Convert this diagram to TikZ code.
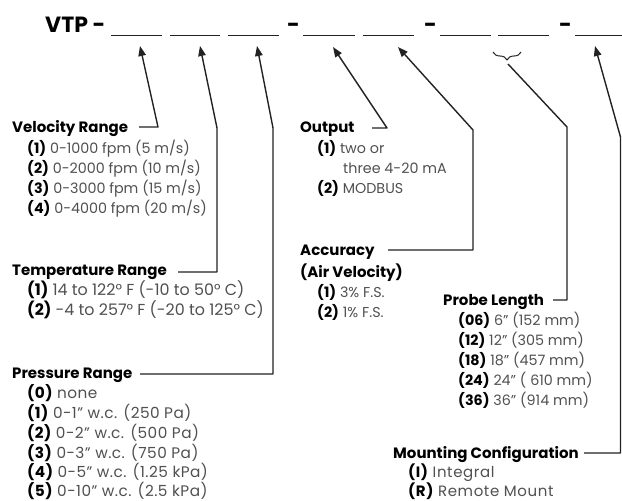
\documentclass[tikz,border=0pt]{standalone}
\usepackage{fontspec}
\setmainfont{Poppins}
\usetikzlibrary{arrows.meta,decorations.pathreplacing}
\definecolor{itemgray}{HTML}{505050}
\definecolor{linegray}{HTML}{222222}
\newcommand\nb[1]{{\bfseries\color{black}#1}}
\begin{document}
\begin{tikzpicture}[x=1pt,y=-1pt,
  title/.style={anchor=base west,inner sep=0pt,font=\fontsize{22}{24}\selectfont\bfseries,text=black},
  head/.style={anchor=base west,inner sep=0pt,font=\fontsize{15}{17}\selectfont\bfseries,text=black},
  opt/.style={anchor=base west,inner sep=0pt,font=\fontsize{14.3}{16}\selectfont,text=itemgray},
  optT/.style={opt,font=\fontsize{15.9}{18}\selectfont},
  optP/.style={opt,font=\fontsize{15.3}{17}\selectfont\addfontfeatures{LetterSpace=3}},
  optM/.style={opt,font=\fontsize{15}{17}\selectfont\addfontfeatures{LetterSpace=4}},
  conn/.style={draw=linegray,line width=1.4pt,line join=round,-{Triangle[length=10pt,width=7.5pt]}},
  plainconn/.style={draw=linegray,line width=1.4pt,line join=round},
  blank/.style={draw=linegray,line width=0.9pt}]
\useasboundingbox (0,0) rectangle (622,501);
% title line
\node[title] (vtp) at (45,32) {VTP -};
\node[title] (d1) at (287,32) {-};
\node[title] (d2) at (424,32) {-};
\node[title] (d3) at (559,32) {-};
\draw[blank] (111,35) -- (162,35);
\draw[blank] (170,35) -- (220,35);
\draw[blank] (228,35) -- (279,35);
\draw[blank] (303,35) -- (355,35);
\draw[blank] (363,35) -- (414,35);
\draw[blank] (440,35) -- (491,35);
\draw[blank] (498,35) -- (549,35);
\draw[blank] (575,35) -- (622,35);
\draw[plainconn,line width=1pt,decorate,decoration={brace,amplitude=8pt}] (521,52) -- (493,52);
% tips
\coordinate (t1) at (140,46);
\coordinate (t2) at (200,46);
\coordinate (t3) at (257,46);
\coordinate (t4) at (333,47);
\coordinate (t5) at (398,47);
\coordinate (bt) at (508,64);
\coordinate (t7) at (595,46);
% Velocity
\node[head] (vel) at (12,132.2) {Velocity Range};
\node[opt] (v1) at (27,153) {\nb{(1)} 0-1000 fpm (5 m/s)};
\node[opt] (v2) at (27,173) {\nb{(2)} 0-2000 fpm (10 m/s)};
\node[opt] (v3) at (27,193) {\nb{(3)} 0-3000 fpm (15 m/s)};
\node[opt] (v4) at (27,213) {\nb{(4)} 0-4000 fpm (20 m/s)};
% Temperature
\node[head] (tem) at (12,275.2) {Temperature Range};
\node[optT] (tr1) at (27,295.5) {\nb{(1)} 14 to 122° F (-10 to 50° C)};
\node[optT] (tr2) at (27,315) {\nb{(2)} -4 to 257° F (-20 to 125° C)};
% Pressure
\node[head] (pre) at (12,378.2) {Pressure Range};
\node[optP] (p0) at (27,398) {\nb{(0)} none};
\node[optP] (p1) at (27,418) {\nb{(1)} 0-1” w.c. (250 Pa)};
\node[optP] (p2) at (27,438) {\nb{(2)} 0-2” w.c. (500 Pa)};
\node[optP] (p3) at (27,458) {\nb{(3)} 0-3” w.c. (750 Pa)};
\node[optP] (p4) at (27,477.5) {\nb{(4)} 0-5” w.c. (1.25 kPa)};
\node[optP] (p5) at (27,496.5) {\nb{(5)} 0-10” w.c. (2.5 kPa)};
% Output
\node[head] (out) at (300,132.2) {Output};
\node[opt] (o1) at (317,153) {\nb{(1)} two or};
\node[opt] (o1b) at (343,173) {three 4-20 mA};
\node[opt] (o2) at (317,193) {\nb{(2)} MODBUS};
% Accuracy
\node[head] (acc) at (300,255.2) {Accuracy};
\node[head] (acc2) at (300,277.2) {(Air Velocity)};
\node[opt] (a1) at (317,297) {\nb{(1)} 3\% F.S.};
\node[opt] (a2) at (317,317.5) {\nb{(2)} 1\% F.S.};
% Probe
\node[head] (pro) at (443,305.2) {Probe Length};
\node[opt] (l1) at (458,325) {\nb{(06)} 6” (152 mm)};
\node[opt] (l2) at (458,345) {\nb{(12)} 12” (305 mm)};
\node[opt] (l3) at (458,365) {\nb{(18)} 18” (457 mm)};
\node[opt] (l4) at (458,385) {\nb{(24)} 24” ( 610 mm)};
\node[opt] (l5) at (458,405) {\nb{(36)} 36” (914 mm)};
% Mounting
\node[head] (mou) at (393,458.2) {Mounting Configuration};
\node[optM] (m1) at (408,477.5) {\nb{(I)} Integral};
\node[optM] (m2) at (408,496.5) {\nb{(R)} Remote Mount};
% connector starts
\coordinate (s1) at (139,127);
\coordinate (s2) at (178,272);
\coordinate (s3) at (140,374);
\coordinate (s4) at (372,128);
\coordinate (s5) at (388,250);
\coordinate (s6) at (553,300);
\coordinate (s7) at (584,453);
\draw[conn] (s1) -- (158,127) -- (t1);
\draw[conn] (s2) -- (217,272) -- (217,128) -- (t2);
\draw[conn] (s3) -- (273,374) -- (273,128) -- (t3);
\draw[conn] (s4) -- (387,128) -- (t4);
\draw[conn] (s5) -- (473,250) -- (473,130) -- (t5);
\draw[plainconn] (s6) -- (567,300) -- (567,127) -- (bt);
\draw[conn] (s7) -- (620.5,453) -- (620.5,137) -- (t7);
\end{tikzpicture}
\end{document}
